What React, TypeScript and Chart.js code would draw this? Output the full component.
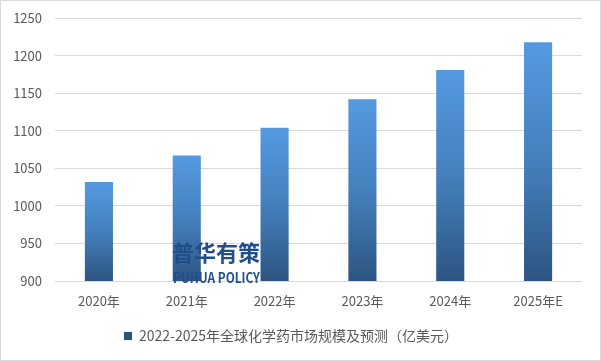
import React, { useEffect, useRef } from "react";
import { Chart, registerables } from "chart.js";

Chart.register(...registerables);

const categories = ["2020年", "2021年", "2022年", "2023年", "2024年", "2025年E"];
const marketSize = [1032, 1067, 1104, 1142, 1181, 1218];
const seriesLabel = "2022-2025年全球化学药市场规模及预测（亿美元）";
const yMin = 900;
const yMax = 1250;
const yStep = 50;

const FONT = "'Noto Sans CJK SC', 'Noto Sans', sans-serif";

const framePlugin = {
  id: "frame",
  afterDraw(chart: any) {
    const { ctx, width, height } = chart;
    ctx.save();
    ctx.strokeStyle = "#d9d9d9";
    ctx.lineWidth = 1;
    ctx.strokeRect(0.5, 0.5, width - 1, height - 1);
    ctx.restore();
  },
};

const watermarkPlugin = {
  id: "watermark",
  afterDatasetsDraw(chart: any) {
    const { ctx } = chart;
    ctx.save();
    ctx.fillStyle = "#1f4e89";
    ctx.textAlign = "left";
    ctx.textBaseline = "alphabetic";
    ctx.font = `bold 22px ${FONT}`;
    ctx.fillText("普华有策", 172, 261, 88);
    ctx.font = `bold 14px ${FONT}`;
    ctx.fillText("PUHUA POLICY", 173, 283, 87);
    ctx.restore();
  },
};

export default function App() {
  const ref = useRef<HTMLCanvasElement | null>(null);

  useEffect(() => {
    document.body.style.margin = "0";
    const canvas = ref.current;
    if (!canvas) return;

    const chart = new Chart(canvas, {
      type: "bar",
      data: {
        labels: categories,
        datasets: [
          {
            label: seriesLabel,
            data: marketSize,
            backgroundColor: (c: any) => {
              const ch = c.chart;
              const area = ch.chartArea;
              if (!area || c.type !== "data") return "#3f76b0";
              const ys = ch.scales.y;
              const top = ys.getPixelForValue(c.raw);
              const bottom = ys.getPixelForValue(yMin);
              const g = ch.ctx.createLinearGradient(0, top, 0, bottom);
              g.addColorStop(0, "#559ae0");
              g.addColorStop(0.5, "#4480bd");
              g.addColorStop(1, "#2d5582");
              return g;
            },
            borderWidth: 0,
            categoryPercentage: 1,
            barPercentage: 0.32,
          },
        ],
      },
      options: {
        responsive: false,
        animation: false,
        devicePixelRatio: 1,
        layout: { padding: { left: 0, right: 19, top: 10, bottom: 8 } },
        scales: {
          x: {
            grid: { display: false, drawTicks: false },
            border: { display: false },
            ticks: {
              color: "#595959",
              font: { family: FONT, size: 13 },
              padding: 12,
            },
            afterFit: (s: any) => {
              s.height = 36;
            },
          },
          y: {
            min: yMin,
            max: yMax,
            grid: { color: "#d9d9d9", drawTicks: false, lineWidth: 1 },
            border: { display: false },
            ticks: {
              stepSize: yStep,
              color: "#595959",
              font: { family: FONT, size: 13, lineHeight: 0.8 },
              padding: 13,
              callback: (v: any) => String(v),
            },
            afterFit: (s: any) => {
              s.width = 55;
            },
          },
        },
        plugins: {
          legend: {
            position: "bottom",
            labels: {
              color: "#595959",
              font: { family: FONT, size: 14 },
              boxWidth: 8,
              boxHeight: 8,
              padding: 12,
            },
          },
          tooltip: { enabled: false },
        },
      },
      plugins: [framePlugin, watermarkPlugin],
    });

    return () => chart.destroy();
  }, []);

  return (
    <div style={{ width: 601, height: 361 }}>
      <canvas ref={ref} width={601} height={361} />
    </div>
  );
}
